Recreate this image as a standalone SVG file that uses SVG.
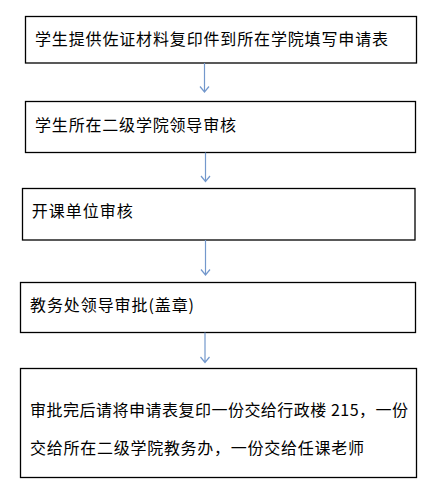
<svg xmlns="http://www.w3.org/2000/svg" width="438" height="492" viewBox="0 0 438 492">
<style>
.box{fill:#fff;stroke:#000;stroke-width:1.3}
.t{font-family:"Noto Sans CJK SC","Liberation Sans",sans-serif;font-size:16px;fill:#000}
.c{fill:none;stroke:#7398CC;stroke-width:1.2}
</style>
<rect width="438" height="492" fill="#fff"/>
<g id="n1"><rect class="box" x="25.5" y="16.5" width="391" height="46.5"/><text class="t" x="35" y="45" textLength="353" lengthAdjust="spacing">学生提供佐证材料复印件到所在学院填写申请表</text></g>
<g id="n2"><rect class="box" x="25.5" y="101.5" width="390" height="51"/><text class="t" x="35" y="131" textLength="201" lengthAdjust="spacing">学生所在二级学院领导审核</text></g>
<g id="n3"><rect class="box" x="22.5" y="188.5" width="392.5" height="51.5"/><text class="t" x="31.7" y="217" textLength="101" lengthAdjust="spacing">开课单位审核</text></g>
<g id="n4"><rect class="box" x="20.5" y="282.5" width="395" height="50"/><text class="t" x="30" y="311" textLength="164" lengthAdjust="spacing">教务处领导审批(盖章)</text></g>
<g id="n5"><rect class="box" x="20.5" y="368.5" width="396" height="109"/><text class="t" x="30" y="415.5" textLength="378" lengthAdjust="spacing">审批完后请将申请表复印一份交给行政楼 215，一份</text><text class="t" x="30" y="453.5" textLength="334" lengthAdjust="spacing">交给所在二级学院教务办，一份交给任课老师</text></g>
<g id="connectors">
<path class="c" d="M204.5 63V92M200 86.5L204.5 92L209 86.5"/>
<path class="c" d="M205.5 152.5V181.5M201 176L205.5 181.5L210 176"/>
<path class="c" d="M205.5 240V275M201 269.5L205.5 275L210 269.5"/>
<path class="c" d="M205 332.5V362.5M200.5 357L205 362.5L209.5 357"/>
</g>
</svg>
